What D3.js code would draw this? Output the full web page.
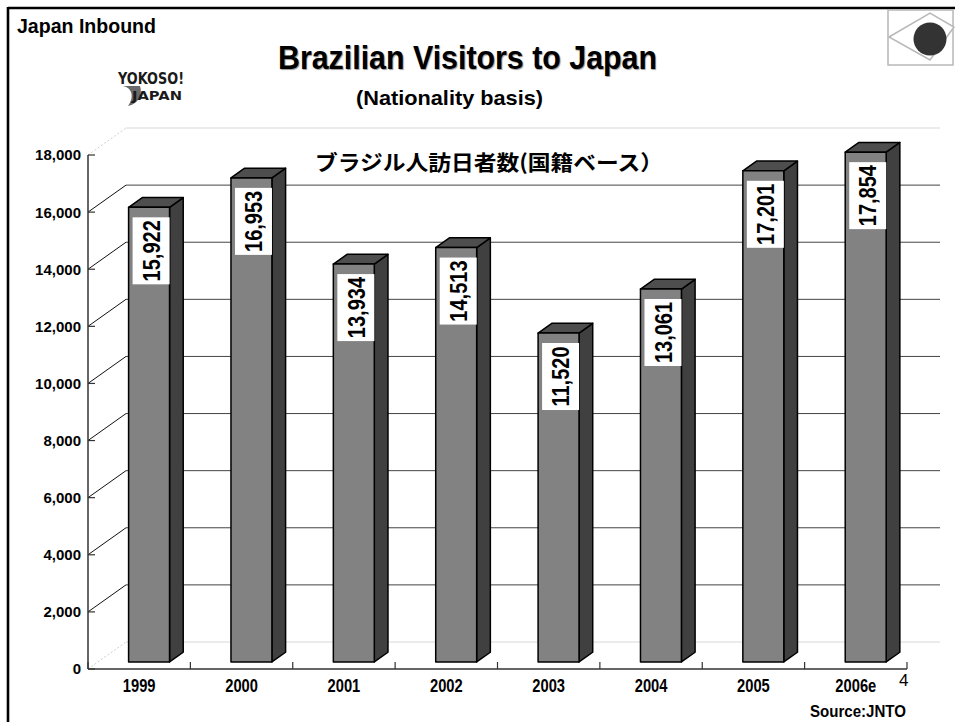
<!DOCTYPE html>
<html><head><meta charset="utf-8">
<script src="https://cdn.jsdelivr.net/npm/d3@7/dist/d3.min.js"></script>
<style>html,body{margin:0;padding:0;background:#fff}svg{display:block}</style>
</head><body>
<svg id="c" width="955" height="722"></svg>
<script>
const categories = ["1999","2000","2001","2002","2003","2004","2005","2006e"];
const visitors = [15922,16953,13934,14513,11520,13061,17201,17854];
const yTickValues = [0,2000,4000,6000,8000,10000,12000,14000,16000,18000];
const titleText = "Brazilian Visitors to Japan";
const subtitleText = "(Nationality basis)";
const jpText = "ブラジル人訪日者数(国籍ベース）";

const svg = d3.select("#c");
const F = "'Liberation Sans', Arial, sans-serif";
const FN = "'Liberation Sans Narrow', 'Arial Narrow', 'Liberation Sans', Arial, sans-serif";

// narrow a text element horizontally by a factor (emulates Arial Narrow)
function narrow(sel, k) {
  sel.each(function () {
    const w = this.getComputedTextLength();
    d3.select(this).attr("textLength", w * k).attr("lengthAdjust", "spacingAndGlyphs");
  });
}

const x = d3.scaleBand().domain(categories).range([88, 907]).paddingInner(0.6).paddingOuter(0.3);
const y = d3.scaleLinear().domain([0, 18000]).range([669, 155]);
const DX = 38, DY = -27;
const P = (px, v, f) => [px + DX * f, y(v) + DY * f];
const f0 = 0.26, f1 = 0.62;

// frame
svg.append("line").attr("x1",8).attr("y1",8).attr("x2",955).attr("y2",8).attr("stroke","#000").attr("stroke-width",2.6);
svg.append("line").attr("x1",8).attr("y1",7).attr("x2",8).attr("y2",722).attr("stroke","#000").attr("stroke-width",2.6);

// headers
svg.append("text").attr("x",17).attr("y",33).attr("font-family",FN).attr("font-weight","bold")
  .attr("font-size",20).attr("textLength",139).attr("lengthAdjust","spacingAndGlyphs").text("Japan Inbound");
svg.append("text").attr("x",278).attr("y",69).attr("font-family",FN).attr("font-weight","bold")
  .attr("font-size",33).attr("textLength",379).attr("lengthAdjust","spacingAndGlyphs")
  .attr("fill","#000").style("text-shadow","1px 1px 1px #999").text(titleText);
svg.append("text").attr("x",356).attr("y",105).attr("font-family",FN).attr("font-weight","bold")
  .attr("font-size",21).attr("textLength",187).attr("lengthAdjust","spacingAndGlyphs").text(subtitleText);

// logo (approximation)
const logo = svg.append("g");
logo.append("path").attr("d","M123,86 C133,88 134,98 128,106 C138,104 143,95 140,86 Z").attr("fill","#6a6a6a");
logo.append("text").attr("x",118).attr("y",84).attr("font-family","'DejaVu Sans', sans-serif").attr("font-weight","bold")
  .attr("font-size",15).attr("textLength",66).attr("lengthAdjust","spacingAndGlyphs").attr("fill","#1a1a1a").text("YOKOSO!");
logo.append("text").attr("x",132).attr("y",100).attr("font-family","'DejaVu Sans', sans-serif").attr("font-weight","bold")
  .attr("font-size",13).attr("textLength",50).attr("lengthAdjust","spacingAndGlyphs").attr("fill","#1a1a1a").text("JAPAN");

// flag
const fg = svg.append("g");
fg.append("rect").attr("x",888).attr("y",10).attr("width",65).attr("height",55).attr("fill","#fff").attr("stroke","#b8b8b8").attr("stroke-width",1.5);
fg.append("polygon").attr("points","889,37 930,13 954,27 930,60").attr("fill","#fff").attr("stroke","#b8b8b8").attr("stroke-width",1.5);
fg.append("circle").attr("cx",930).attr("cy",39).attr("r",16.5).attr("fill","#333");

// back wall gridlines and left wall diagonals
yTickValues.forEach(v => {
  const light = (v === 0 || v === 18000);
  const a = P(88, v, 0), b = P(88, v, 1);
  svg.append("line").attr("x1",b[0]).attr("y1",b[1]).attr("x2",940).attr("y2",b[1])
    .attr("stroke", light ? "#d8d8d8" : "#444").attr("stroke-width",1);
  svg.append("line").attr("x1",a[0]).attr("y1",a[1]).attr("x2",b[0]).attr("y2",b[1])
    .attr("stroke", light ? "#cfcfcf" : "#111").attr("stroke-width",1)
    .attr("stroke-dasharray", light ? "2,2" : null);
});

// y axis (front)
svg.append("line").attr("x1",88).attr("y1",y(18000)).attr("x2",88).attr("y2",y(0)).attr("stroke","#333").attr("stroke-width",1.5);
yTickValues.forEach(v => {
  svg.append("line").attr("x1",88).attr("y1",y(v)).attr("x2",95).attr("y2",y(v)).attr("stroke","#333").attr("stroke-width",1.2);
  svg.append("text").attr("x",81).attr("y",y(v)).attr("dy","0.36em").attr("text-anchor","end")
    .attr("font-family",F).attr("font-weight","bold").attr("font-size",15).text(d3.format(",")(v));
});

// x axis (front)
svg.append("line").attr("x1",88).attr("y1",y(0)).attr("x2",907).attr("y2",y(0)).attr("stroke","#333").attr("stroke-width",1.5);
const step = x.step();
d3.range(categories.length + 1).forEach(i => {
  const tx = 88 + i * step;
  svg.append("line").attr("x1",tx).attr("y1",y(0)).attr("x2",tx).attr("y2",y(0)-7).attr("stroke","#333").attr("stroke-width",1.2);
});
categories.forEach(c => {
  svg.append("text").attr("x", x(c) + x.bandwidth()/2).attr("y",692).attr("text-anchor","middle")
    .attr("font-family",F).attr("font-weight","bold").attr("font-size",17.5).text(c)
    .call(narrow, 0.84);
});

// bars
const poly = pts => pts.map(p => p.join(",")).join(" ");
categories.forEach((c, i) => {
  const v = visitors[i];
  const x0 = x(c), x1 = x0 + x.bandwidth();
  const g = svg.append("g");
  g.append("polygon").attr("points", poly([P(x1,0,f0),P(x1,0,f1),P(x1,v,f1),P(x1,v,f0)]))
    .attr("fill","#404040").attr("stroke","#000").attr("stroke-width",1.5).attr("stroke-linejoin","round");
  g.append("polygon").attr("points", poly([P(x0,v,f0),P(x1,v,f0),P(x1,v,f1),P(x0,v,f1)]))
    .attr("fill","#4e4e4e").attr("stroke","#000").attr("stroke-width",1.5).attr("stroke-linejoin","round");
  g.append("polygon").attr("points", poly([P(x0,0,f0),P(x1,0,f0),P(x1,v,f0),P(x0,v,f0)]))
    .attr("fill","#828282").attr("stroke","#000").attr("stroke-width",1.5).attr("stroke-linejoin","round");
  // label
  const top = P(x0, v, f0);
  const bx = top[0] + 4, by = top[1] + 10, bw = 37, bh = 67;
  g.append("rect").attr("x",bx).attr("y",by).attr("width",bw).attr("height",bh).attr("fill","#fff");
  g.append("text").attr("transform",`translate(${bx + bw/2 + 0.5},${by + bh/2}) rotate(-90)`)
    .attr("text-anchor","middle").attr("dy","0.36em")
    .attr("font-family",F).attr("font-weight","bold").attr("font-size",23).text(d3.format(",")(v))
    .call(narrow, 0.87);
});

// japanese subtitle
svg.append("text").attr("x",315).attr("y",170).attr("font-family","'Noto Sans CJK JP', sans-serif").attr("font-weight","bold")
  .attr("font-size",21).attr("textLength",348).attr("lengthAdjust","spacingAndGlyphs").text(jpText);

// page number and source
svg.append("text").attr("x",899).attr("y",686).attr("font-family",F).attr("font-size",17).text("4");
svg.append("text").attr("x",906).attr("y",717).attr("text-anchor","end").attr("font-family",F).attr("font-weight","bold")
  .attr("font-size",16).attr("textLength",96).attr("lengthAdjust","spacingAndGlyphs").text("Source:JNTO");
</script>
</body></html>
